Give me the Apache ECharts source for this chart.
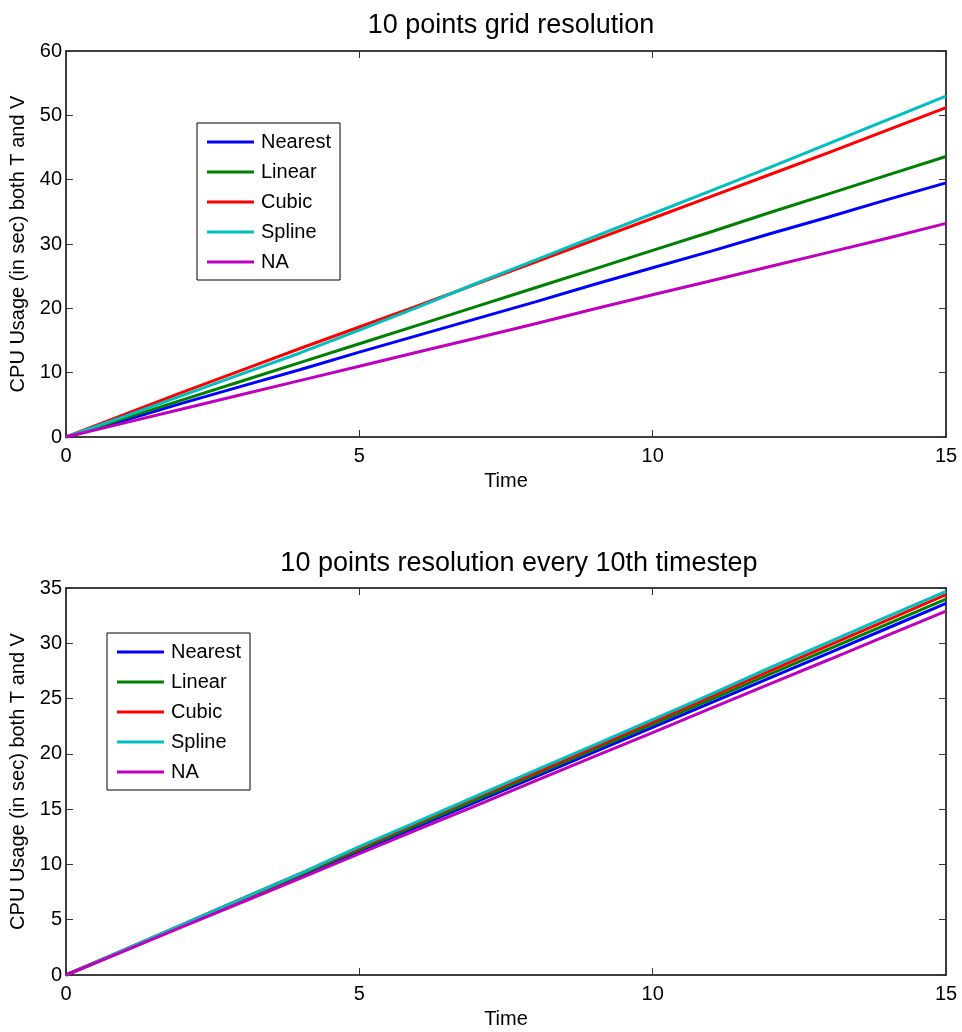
<!DOCTYPE html>
<html>
<head>
<meta charset="utf-8">
<script src="https://cdn.jsdelivr.net/npm/echarts@6/dist/echarts.min.js"></script>
<style>
html,body{margin:0;padding:0;background:#fff;}
#chart{width:962px;height:1032px;}
</style>
</head>
<body>
<div id="chart"></div>
<script>
// ---- data ----
const time = [0,1,2,3,4,5,6,7,8,9,10,11,12,13,14,15];
const seriesNames = ['Nearest','Linear','Cubic','Spline','NA'];
const seriesColors = ['#0000ff','#008000','#ff0000','#00bfbf','#bf00bf'];

// Top: 10 points grid resolution
const topNearest = [0,2.6,5.3,7.9,10.5,13.2,15.8,18.4,21.0,23.7,26.3,28.9,31.6,34.2,36.9,39.5];
const topLinear  = [0,2.9,5.8,8.7,11.6,14.5,17.4,20.3,23.2,26.1,29.0,31.9,34.9,37.8,40.7,43.6];
const topCubic   = [0,3.5,7.0,10.4,13.8,17.1,20.4,23.8,27.2,30.6,34.0,37.4,40.8,44.2,47.7,51.2];
const topSpline  = [0,3.2,6.5,9.8,13.1,16.6,20.2,23.9,27.5,31.1,34.7,38.3,41.9,45.6,49.3,53.0];
const topNA      = [0,2.2,4.4,6.6,8.8,11.0,13.2,15.4,17.6,19.9,22.1,24.3,26.5,28.7,30.9,33.2];

// Bottom: 10 points resolution every 10th timestep
const botNearest = [0,2.24,4.48,6.72,8.96,11.2,13.44,15.68,17.92,20.16,22.4,24.64,26.88,29.12,31.36,33.6];
const botLinear  = [0,2.27,4.53,6.8,9.07,11.33,13.6,15.87,18.13,20.4,22.67,24.93,27.2,29.47,31.73,34.0];
const botCubic   = [0,2.3,4.6,6.9,9.2,11.5,13.8,16.1,18.3,20.6,22.9,25.2,27.5,29.8,32.1,34.4];
const botSpline  = [0,2.3,4.6,6.9,9.2,11.6,13.9,16.2,18.5,20.8,23.1,25.4,27.8,30.1,32.4,34.7];
const botNA      = [0,2.19,4.39,6.58,8.77,10.97,13.16,15.35,17.55,19.74,21.93,24.13,26.32,28.51,30.71,32.9];

const titles = ['10 points grid resolution','10 points resolution every 10th timestep'];
const xName = 'Time';
const yName = 'CPU Usage (in sec) both T and V';

// ---- build ----
const FONT = 'Liberation Sans, Arial, Helvetica, sans-serif';
const zip = (ys) => time.map((t,i)=>[t, ys[i]]);
const topSets = [topNearest, topLinear, topCubic, topSpline, topNA];
const botSets = [botNearest, botLinear, botCubic, botSpline, botNA];

const grids = [
  {left:66, right:16, top:51, height:386},
  {left:66, right:16, top:588, height:387}
];

function mainX(gi){
  return {type:'value', gridIndex:gi, min:0, max:15, interval:5,
    name:xName, nameLocation:'middle', nameGap:34,
    nameTextStyle:{color:'#000', fontSize:20, fontFamily:FONT},
    axisLine:{onZero:false, lineStyle:{color:'#000', width:1.5}},
    axisTick:{inside:true, length:7, lineStyle:{color:'#333'}},
    axisLabel:{color:'#000', fontSize:20, fontFamily:FONT, margin:9},
    splitLine:{show:false}};
}
function mirrorX(gi){
  return {type:'value', gridIndex:gi, min:0, max:15, interval:5, position:'top',
    axisLine:{show:true, onZero:false, lineStyle:{color:'#000', width:1.5}},
    axisTick:{inside:true, length:7, lineStyle:{color:'#333'}},
    axisLabel:{show:false}, splitLine:{show:false}};
}
function mainY(gi, max, interval){
  return {type:'value', gridIndex:gi, min:0, max:max, interval:interval,
    name:yName, nameLocation:'middle', nameGap:31,
    nameTextStyle:{color:'#000', fontSize:20, fontFamily:FONT},
    axisLine:{show:true, onZero:false, lineStyle:{color:'#000', width:1.5}},
    axisTick:{show:true, inside:true, length:7, lineStyle:{color:'#333'}},
    axisLabel:{color:'#000', fontSize:20, fontFamily:FONT, margin:4},
    splitLine:{show:false}};
}
function mirrorY(gi, max, interval){
  return {type:'value', gridIndex:gi, min:0, max:max, interval:interval, position:'right',
    axisLine:{show:true, onZero:false, lineStyle:{color:'#000', width:1.5}},
    axisTick:{show:true, inside:true, length:7, lineStyle:{color:'#333'}},
    axisLabel:{show:false}, splitLine:{show:false}};
}

const series = [];
seriesNames.forEach((n,i)=>{
  series.push({name:n, type:'line', xAxisIndex:0, yAxisIndex:0, data:zip(topSets[i]),
    symbol:'none', lineStyle:{width:3, color:seriesColors[i]}, itemStyle:{color:seriesColors[i]}, animation:false});
});
seriesNames.forEach((n,i)=>{
  series.push({name:n, type:'line', xAxisIndex:2, yAxisIndex:2, data:zip(botSets[i]),
    symbol:'none', lineStyle:{width:3, color:seriesColors[i]}, itemStyle:{color:seriesColors[i]}, animation:false});
});

function legend(left, top){
  return {orient:'vertical', left:left, top:top, data:seriesNames,
    icon:'rect', itemWidth:47, itemHeight:3, itemGap:10,
    padding:[9,9,8,10],
    borderColor:'#000', borderWidth:1, backgroundColor:'#fff',
    textStyle:{color:'#000', fontSize:20, fontFamily:FONT, lineHeight:20, padding:[0,0,0,2]},
    selectedMode:false};
}

const option = {
  animation:false,
  backgroundColor:'#fff',
  title:[
    {text:titles[0], left:506, textAlign:'center', top:7, textStyle:{color:'#000', fontSize:27, fontWeight:'normal', fontFamily:FONT}},
    {text:titles[1], left:514, textAlign:'center', top:545, textStyle:{color:'#000', fontSize:27, fontWeight:'normal', fontFamily:FONT}}
  ],
  grid:grids,
  xAxis:[mainX(0), mirrorX(0), mainX(1), mirrorX(1)],
  yAxis:[mainY(0,60,10), mirrorY(0,60,10), mainY(1,35,5), mirrorY(1,35,5)],
  legend:[legend(197,123), legend(107,633)],
  series:series
};

const chart = echarts.init(document.getElementById('chart'), null, {renderer:'canvas'});
chart.setOption(option);
</script>
</body>
</html>
